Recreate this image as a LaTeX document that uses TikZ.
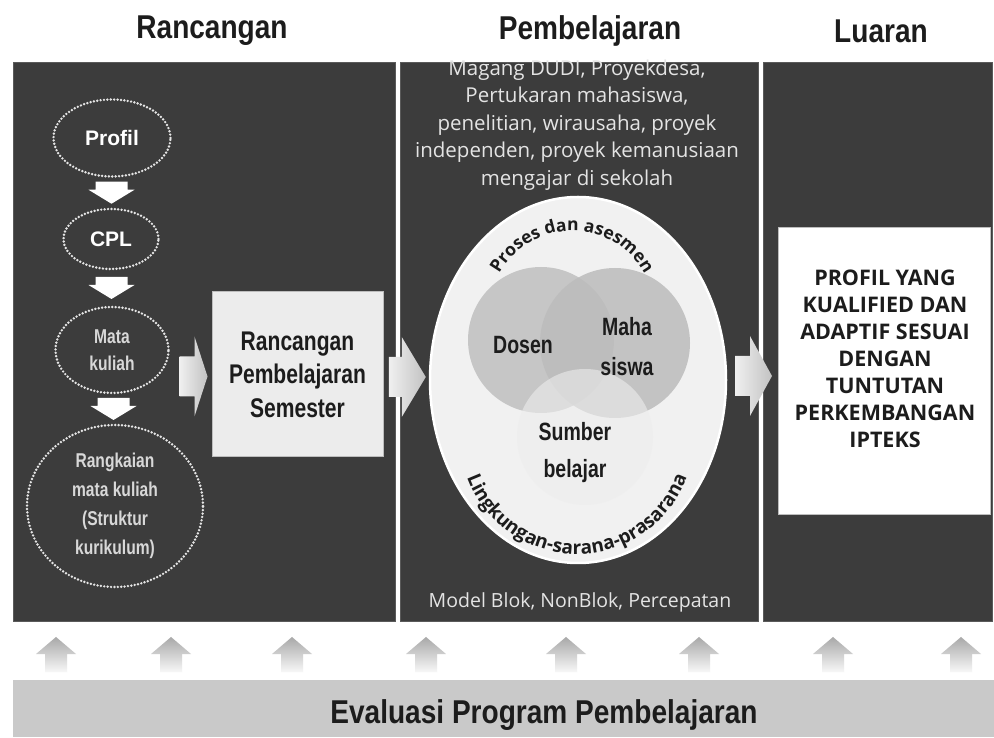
\documentclass[tikz,border=0pt]{standalone}
\usepackage{fontspec}
\setmainfont{Open Sans}
\newfontfamily\headfont{Liberation Sans}[FakeStretch=0.85]
\newfontfamily\narrowfont{Liberation Sans}[FakeStretch=0.78]
\newfontfamily\arialfont{Liberation Sans}
\usetikzlibrary{shapes.geometric,decorations.text,calc}

\definecolor{panelgray}{HTML}{3C3C3C}
\definecolor{panelrim}{HTML}{5A5A5A}
\definecolor{inkdark}{HTML}{1C1C1C}
\definecolor{paletext}{HTML}{E4E4E4}
\definecolor{dimtext}{HTML}{D8D8D8}
\definecolor{rpsfill}{HTML}{ECECEC}
\definecolor{rimgray}{HTML}{BDBDBD}
\definecolor{ringfill}{HTML}{F1F1F1}
\definecolor{vennA}{HTML}{C6C6C6}
\definecolor{vennB}{HTML}{BCBCBC}
\definecolor{barfill}{HTML}{C9C9C9}

\newcommand\arcfonttop{\bfseries\fontsize{17.5}{20}\selectfont}
\newcommand\arcfontbottom{\bfseries\fontsize{19}{22}\selectfont}

\tikzset{
  panel/.style={rectangle, fill=panelgray, draw=panelrim, line width=1.2pt,
    inner sep=0pt, anchor=south west},
  header/.style={font=\headfont\bfseries\fontsize{33}{38}\selectfont, text=inkdark},
  dotell/.style={ellipse, draw=white!90!black, fill=panelgray, line width=2.7pt,
    dash pattern=on 0pt off 3.4pt, line cap=round, inner sep=0pt, align=center},
  venntext/.style={align=center, text=inkdark,
    font=\narrowfont\bfseries\fontsize{25}{40}\selectfont},
  pics/downarrow/.style={code={
    \fill[white] (-16,11) -- (16,11) -- (16,3) -- (23,3) -- (0,-11)
      -- (-23,3) -- (-16,3) -- cycle;}},
  % #1 = head length, #2 = shaft length; the tip sits at the pic origin
  pics/rightarrow/.style 2 args={code={
    \shade[left color=white!94!black, right color=white!76!black]
      ({-(#1+#2)},-20) -- ({-#1},-20) -- ({-#1},-40) -- (0,0)
      -- ({-#1},40) -- ({-#1},20) -- ({-(#1+#2)},20) -- cycle;}},
  pics/uparrow/.style={code={
    \shade[top color=white!66!black, bottom color=white!97!black]
      (-11,0) -- (-11,18) -- (-20,18) -- (0,35) -- (20,18) -- (11,18)
      -- (11,0) -- cycle;}}
}

\begin{document}
\begin{tikzpicture}[x=1pt,y=1pt]
\useasboundingbox (0,0) rectangle (994,737);
\fill[white] (0,0) rectangle (994,737);

% column titles
\node[header] (hRancangan) at (212,706) {Rancangan};
\node[header] (hPembelajaran) at (590,706) {Pembelajaran};
\node[header] (hLuaran) at (881,706) {Luaran};

% the three dark columns
\node[panel, minimum width=382, minimum height=559] (pRancangan) at (13,115) {};
\node[panel, minimum width=358, minimum height=559] (pPembelajaran) at (400,115) {};
\node[panel, minimum width=229, minimum height=559] (pLuaran) at (763,115) {};

% design chain
\node[dotell, minimum width=117, minimum height=77, text=white,
  font=\arialfont\bfseries\fontsize{21}{24}\selectfont] (profil) at (112,599) {Profil};
\node[dotell, minimum width=95, minimum height=60, text=white,
  font=\arialfont\bfseries\fontsize{21}{24}\selectfont] (cpl) at (111,498) {CPL};
\node[dotell, minimum width=113, minimum height=86, text=dimtext,
  font=\narrowfont\bfseries\fontsize{20}{27}\selectfont] (matkul) at (112,387) {Mata\\kuliah};
\node[dotell, minimum width=176, minimum height=162, text=dimtext,
  font=\narrowfont\bfseries\fontsize{20}{29}\selectfont] (rangkaian) at (115,231)
  {Rangkaian\\mata kuliah\\(Struktur\\kurikulum)};

\pic at ($(profil.south)!0.5!(cpl.north)$) {downarrow};
\pic at ($(cpl.south)!0.5!(matkul.north)$) {downarrow};
\pic at ($(matkul.south)!0.5!(rangkaian.north)$) {downarrow};

% semester plan
\node[rectangle, fill=rpsfill, draw=rimgray, line width=1pt, inner sep=0pt,
  minimum width=171, minimum height=165, align=center, text=inkdark,
  font=\narrowfont\bfseries\fontsize{27}{33.5}\selectfont] (rps) at (297.5,362.5)
  {Rancangan\\Pembelajaran\\Semester};
\pic at ([xshift=-4pt,yshift=-2pt]rps.west) {rightarrow={13}{15}};

% learning activities
\node[align=center, text=paletext, font=\fontsize{20.5}{27.5}\selectfont] (kegiatan)
  at (577,612) {Magang DUDI, Proyekdesa,\\Pertukaran mahasiswa,\\
  penelitian, wirausaha, proyek\\independen, proyek kemanusiaan\\mengajar di sekolah};

\node[ellipse, fill=ringfill, draw=white, line width=2.5pt, inner sep=0pt,
  minimum width=296, minimum height=366] (lingkungan) at (578,357) {};
\pic at ([xshift=-3pt,yshift=3pt]lingkungan.west) {rightarrow={24}{13}};

\node[circle, fill=vennA, inner sep=0pt, minimum size=146] (cDosen) at (541,397) {};
\node[circle, fill=vennB, fill opacity=0.85, inner sep=0pt, minimum size=150] (cMaha) at (615,394) {};
\node[circle, fill=white!93!black, fill opacity=0.6, inner sep=0pt, minimum size=136] (cSumber) at (585,300) {};

\node[venntext] (tDosen) at (523,392) {Dosen};
\node[venntext] (tMaha) at (627,390) {Maha\\siswa};
\node[venntext, font=\narrowfont\bfseries\fontsize{25}{37}\selectfont] (tSumber) at (575,284) {Sumber\\belajar};

\path[decorate, decoration={text along path, text align=center, text color=inkdark,
  text={|\arcfonttop|Proses dan asesmen}}]
  (572,423) ++(165:83) arc[start angle=165, end angle=15, radius=83];
\path[decorate, decoration={text along path, text align=center, text color=inkdark,
  text={|\arcfontbottom|Lingkungan-sarana-prasarana}}]
  (577,300) ++(192:117) arc[start angle=192, end angle=348, radius=117];

\node[text=paletext, font=\fontsize{19.5}{24}\selectfont] (model) at (580,135)
  {Model Blok, NonBlok, Percepatan};

% outcome
\node[rectangle, fill=white, draw=rimgray, line width=1pt, inner sep=0pt,
  minimum width=212, minimum height=287, anchor=south west] (luaranbox) at (778,222) {};
\node[align=center, text=inkdark, font=\bfseries\fontsize{21.5}{27}\selectfont] (luarantext)
  at (885,378) {PROFIL YANG\\KUALIFIED DAN\\ADAPTIF SESUAI\\DENGAN\\TUNTUTAN\\PERKEMBANGAN\\IPTEKS};
\pic at ([xshift=-6pt,yshift=-5pt]luaranbox.west) {rightarrow={22}{15}};

% programme evaluation feeding back into every stage
\foreach \ux in {56,171,292,426,566,699,833,961}
  \pic at (\ux,65) {uparrow};
\node[rectangle, fill=barfill, inner sep=0pt, minimum width=981, minimum height=57,
  anchor=south west] (evalbar) at (13,0) {};
\node[header] (evaltext) at (544,22) {Evaluasi Program Pembelajaran};
\end{tikzpicture}
\end{document}
